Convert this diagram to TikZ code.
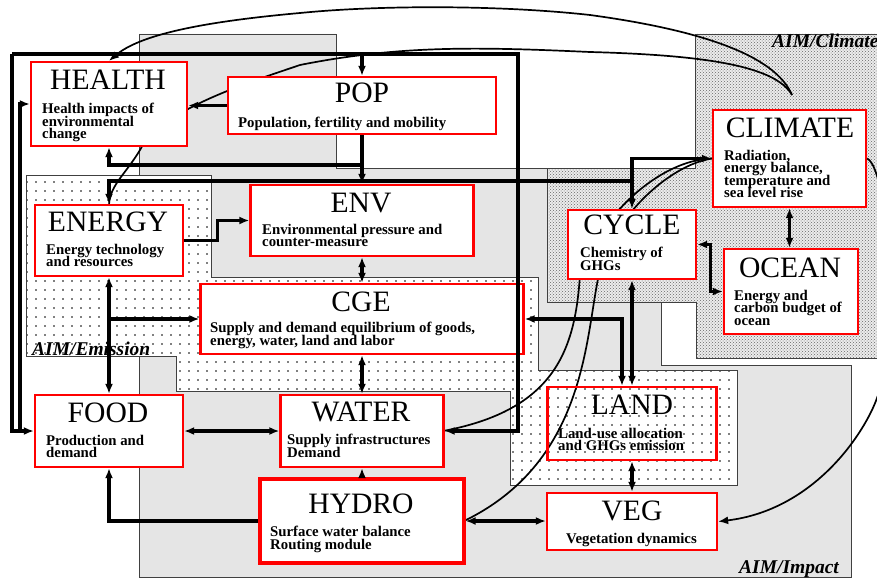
\documentclass[tikz,border=0pt]{standalone}
\usepackage{fontspec}
\setmainfont{Liberation Serif}
\usetikzlibrary{arrows.meta,patterns,patterns.meta}
\lineskiplimit=-20pt

\begin{document}
\begin{tikzpicture}[x=1pt,y=-1pt,
  >={Latex[length=10pt,width=8pt]},
  box/.style={draw=red, line width=2.3pt, fill=white, inner sep=0pt},
  ttl/.style={font=\fontsize{29.6}{29.6}\selectfont, inner sep=0pt, anchor=base},
  sub/.style={font=\bfseries\fontsize{14.8}{12.4}\selectfont, align=left, inner sep=0pt, anchor=north west},
  aim/.style={font=\bfseries\itshape\fontsize{19.5}{19.5}\selectfont, inner sep=0pt, anchor=base west},
  thk/.style={line width=3.2pt},
  crv/.style={line width=1.7pt},
  region/.style={draw=black!75, line width=0.9pt}]
\useasboundingbox (0,0) rectangle (877,578);
\clip (0,0) rectangle (877,578);

% sub-model areas
\filldraw[region, fill=gray!20] (139,34) -- (336,34) -- (336,168) -- (661,168) -- (661,365) -- (851,365) -- (851,577) -- (139,577) -- cycle;
\draw[region, preaction={fill=gray!15}, pattern=crosshatch dots, pattern color=black!60] (695,34) -- (885,34) -- (885,358) -- (696,358) -- (696,302) -- (547,302) -- (547,168) -- (695,168) -- cycle;
\draw[region, preaction={fill=white}, pattern={Dots[radius=0.85pt,distance=9pt]}] (26,175) -- (211,175) -- (211,277) -- (538,277) -- (538,370) -- (737,370) -- (737,485) -- (510,485) -- (510,391) -- (176,391) -- (176,356) -- (26,356) -- cycle;

\coordinate (climTop) at (792,95);
\node[box, minimum width=153, minimum height=97] (climate) at (789.5,158.5) {};
% curves running behind the boxes
\draw[crv] (climTop) .. controls (775,65) and (700,55) .. (590,52) .. controls (480,47) and (400,45) .. (300,65) .. controls (250,82) and (160,110) .. (140,150) .. controls (125,175) and (110,185) .. (109,205);
\draw[crv] (climate.west) .. controls (660,160) and (600,215) .. (580,275) .. controls (575,350) and (555,410) .. (443,431);
\draw[crv] (climate.west) .. controls (670,165) and (615,215) .. (600,270) .. controls (585,330) and (590,460) .. (464,521);

\node[box, minimum width=156, minimum height=84] (health) at (109,104) {};
\node[box, minimum width=268, minimum height=57] (pop) at (362,105.5) {};
\node[box, minimum width=223, minimum height=71] (env) at (362,220.5) {};
\node[box, minimum width=148, minimum height=71] (energy) at (109,240.5) {};
\node[box, minimum width=323, minimum height=70] (cge) at (362,319) {};
\node[box, minimum width=148, minimum height=72] (food) at (109,431) {};
\node[box, minimum width=163, minimum height=72] (water) at (362,431) {};
\node[box, line width=3.2pt, minimum width=204, minimum height=84] (hydro) at (362,521) {};
\node[box, fill=none, minimum width=169, minimum height=73] (land) at (632,423.5) {};
\node[box, minimum width=170, minimum height=57] (veg) at (632,521.5) {};
\node[box, minimum width=128, minimum height=69] (cycle) at (632,244.5) {};
\node[box, minimum width=153, minimum height=97] (climate) at (789.5,158.5) {};
\node[box, minimum width=134, minimum height=85] (ocean) at (791,291.5) {};

% thick links
\coordinate (busL) at (12,54);
\coordinate (busR) at (518,54);
\coordinate (feedL) at (20,0);
\coordinate (popH) at (362,165);
\coordinate (emiL) at (109,181);
\coordinate (emiR) at (632,181);
\draw[thk,->] (busL) -- (busR) -- (busR |- water.east) -- (water.east);
\draw[thk,->] (busL) -- (busL |- food.west) -- (food.west);
\draw[thk,->] (pop.north |- busL) -- (pop.north);
\draw[thk,->] (feedL |- food.west) -- (feedL |- health.west) -- (health.west);
\draw[thk,->] (pop.south) -- (env.north);
\draw[thk,->] (popH) -| (health.south);
\draw[thk,->] (pop.west) -- (pop.west -| health.east);
\draw[thk,->] (emiR) -- (emiL) -- (energy.north);
\draw[thk,->] (emiR) |- (climate.west);
\draw[thk,->] (emiR) -- (cycle.north);
\draw[thk,<->] (env.south) -- (cge.north);
\draw[thk,<->] (cge.south) -- (water.north);
\draw[thk,->] (hydro.north) -- (water.south);
\draw[thk,<->] (food.east) -- (water.west);
\draw[thk,->] (hydro.west) -| (food.south);
\draw[thk,<->] (energy.south) -- (food.north);
\draw[thk,->] (energy.south |- cge.west) -- (cge.west);
\draw[thk,->] (energy.east) -- ++(33,0) |- (env.west);
\draw[thk,<->] (cge.east) -| ([xshift=-10pt]land.north);
\draw[thk,<->] (cycle.south) -- (cycle.south |- land.north);
\draw[thk,<->] (land.south) -- (land.south |- veg.north);
\draw[thk,<->] (hydro.east) -- (hydro.east -| veg.west);
\draw[thk,<->] (climate.south) -- (climate.south |- ocean.north);
\draw[thk,<->] (cycle.east) -- ++(13,0) |- (ocean.west);

% climate feedbacks
\draw[crv,->] (climTop) .. controls (775,55) and (700,30) .. (590,15) .. controls (500,5) and (380,5) .. (300,13) .. controls (200,22) and (140,35) .. (health.north);
\draw[crv,->] (climate.east) .. controls (890,170) and (897,345) .. (877,398) .. controls (865,432) and (815,510) .. (veg.east);

% texts
\node[ttl] (healthT) at (108,89) {HEALTH};
\node[sub] (healthS) at (42,103) {Health impacts of\\environmental\\change};
\node[ttl] (popT) at (362,102) {POP};
\node[sub] (popS) at (238,117) {Population, fertility and mobility};
\node[ttl] (envT) at (361,212) {ENV};
\node[sub] (envS) at (262,224) {Environmental pressure and\\counter-measure};
\node[ttl] (energyT) at (108,231) {ENERGY};
\node[sub] (energyS) at (46,244) {Energy technology\\and resources};
\node[ttl] (cgeT) at (361,311) {CGE};
\node[sub] (cgeS) at (210,322) {Supply and demand equilibrium of goods,\\energy, water, land and labor};
\node[ttl] (foodT) at (108,422) {FOOD};
\node[sub] (foodS) at (46,435) {Production and\\demand};
\node[ttl] (waterT) at (361,421) {WATER};
\node[sub] (waterS) at (287,434) {Supply infrastructures\\Demand};
\node[ttl] (hydroT) at (361,513) {HYDRO};
\node[sub] (hydroS) at (270,526) {Surface water balance\\Routing module};
\node[ttl] (landT) at (632,414) {LAND};
\node[sub] (landS) at (558,428) {Land-use allocation\\and GHGs emission};
\node[ttl] (vegT) at (632,520) {VEG};
\node[sub] (vegS) at (566,533) {Vegetation dynamics};
\node[ttl] (cycleT) at (632,234) {CYCLE};
\node[sub] (cycleS) at (580,247) {Chemistry of\\GHGs};
\node[ttl] (climateT) at (790,137) {CLIMATE};
\node[sub] (climateS) at (724,150) {Radiation,\\energy balance,\\temperature and\\sea level rise};
\node[ttl] (oceanT) at (790,277) {OCEAN};
\node[sub] (oceanS) at (734,290) {Energy and\\carbon budget of\\ocean};
\node[aim] (aimClimate) at (772,48) {AIM/Climate};
\node[aim] (aimEmission) at (32,355) {AIM/Emission};
\node[aim] (aimImpact) at (739,573) {AIM/Impact};
\end{tikzpicture}
\end{document}
